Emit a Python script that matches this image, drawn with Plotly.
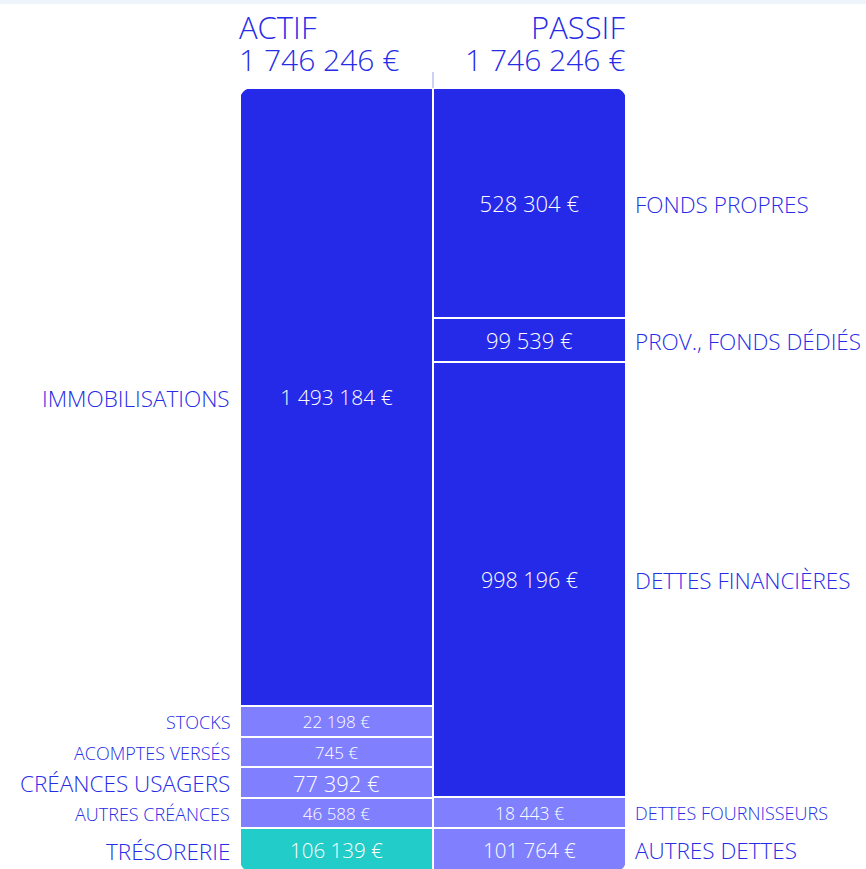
import plotly.graph_objects as go

# ---------------- data ----------------
actif_labels = ["IMMOBILISATIONS", "STOCKS", "ACOMPTES VERSÉS", "CRÉANCES USAGERS",
                "AUTRES CRÉANCES", "TRÉSORERIE"]
actif_values = [1493184, 22198, 745, 77392, 46588, 106139]

passif_labels = ["FONDS PROPRES", "PROV., FONDS DÉDIÉS", "DETTES FINANCIÈRES",
                 "DETTES FOURNISSEURS", "AUTRES DETTES"]
passif_values = [528304, 99539, 998196, 18443, 101764]

# ---------------- style ----------------
DARK = "#2529E8"
LIGHT = "#8080FF"
TEAL = "#22CCC8"
TXT = "#272CE6"
FONT = "Segoe UI, Open Sans, sans-serif"
WEIGHT = 300

actif_colors = [DARK, LIGHT, LIGHT, LIGHT, LIGHT, TEAL]
passif_colors = [DARK, DARK, DARK, LIGHT, LIGHT]
actif_label_sizes = [22.5, 18, 18, 22.5, 18, 22.5]
passif_label_sizes = [22.5, 22.5, 22.5, 18, 22.5]
actif_value_sizes = [21, 17, 17, 22, 17, 20.5]
passif_value_sizes = [22, 22, 21.5, 17.5, 20.5]

COL_H = 784.0      # display height of a column (in px units of the y axis)
MIN_H = 30.5       # minimum display height for small items
MIN_SHARE = 0.05   # items below this share get the minimum height
BOTTOM_PX = 872    # pixel row of column bottom
FIG_W, FIG_H = 866, 869


def display_heights(values):
    total = sum(values)
    small = [v / total < MIN_SHARE for v in values]
    rest = COL_H - MIN_H * sum(small)
    big_total = sum(v for v, s in zip(values, small) if not s)
    return [MIN_H if s else v / big_total * rest for v, s in zip(values, small)]


def bases(heights):
    # items listed top to bottom; stack from the top of the column downward
    out, top = [], COL_H
    for h in heights:
        top -= h
        out.append(top)
    return out


def fmt(v):
    return f"{v:,}".replace(",", " ") + " €"


a_h = display_heights(actif_values)
p_h = display_heights(passif_values)
a_b = bases(a_h)
p_b = bases(p_h)

fig = go.Figure()
for xpos, heights, bs, vals, cols, sizes in [
    (0, a_h, a_b, actif_values, actif_colors, actif_value_sizes),
    (1, p_h, p_b, passif_values, passif_colors, passif_value_sizes),
]:
    fig.add_trace(go.Bar(
        x=[xpos] * len(vals), y=heights, base=bs, width=1,
        marker=dict(color=cols, line=dict(color="white", width=2)),
        text=[fmt(v) for v in vals], textposition="inside",
        insidetextanchor="middle", textangle=0, constraintext="none",
        textfont=dict(color="white", size=sizes, family=FONT, weight=WEIGHT),
        hoverinfo="skip", showlegend=False,
    ))

ann = []
for lab, h, b, s in zip(actif_labels, a_h, a_b, actif_label_sizes):
    ann.append(dict(x=-0.5, y=b + h / 2, xref="x", yref="y", text=lab,
                    showarrow=False, xanchor="right", yanchor="middle", xshift=-8,
                    yshift=-1,
                    font=dict(color=TXT, size=s, family=FONT, weight=WEIGHT)))
for lab, h, b, s in zip(passif_labels, p_h, p_b, passif_label_sizes):
    ann.append(dict(x=1.5, y=b + h / 2, xref="x", yref="y", text=lab,
                    showarrow=False, xanchor="left", yanchor="middle", xshift=7,
                    yshift=-1,
                    font=dict(color=TXT, size=s, family=FONT, weight=WEIGHT)))

tot_a = sum(actif_values)
tot_p = sum(passif_values)
for x, anchor, title, tot in [(-0.5, "left", "ACTIF", tot_a), (1.5, "right", "PASSIF", tot_p)]:
    ann.append(dict(x=x, y=BOTTOM_PX - 27, xref="x", yref="y", text=title, showarrow=False,
                    xanchor=anchor, yanchor="middle", xshift=-2 if anchor == "left" else 0,
                    borderpad=0,
                    font=dict(color=TXT, size=31, family=FONT, weight=WEIGHT)))
    ann.append(dict(x=x, y=BOTTOM_PX - 59, xref="x", yref="y", text=fmt(tot), showarrow=False,
                    xanchor=anchor, yanchor="middle", xshift=-2 if anchor == "left" else 0,
                    borderpad=0,
                    font=dict(color=TXT, size=30, family=FONT, weight=WEIGHT)))

# rounded outer corners (white masks)
R = 12
ppu = (626 - 240) / 2.0
rx, ry = R / ppu, R
k = 0.5523


def corner(xc, yc, sx, sy):
    ax, ay = xc + sx * rx, yc
    bx, by = xc, yc + sy * ry
    c1x, c1y = xc + sx * rx * (1 - k), yc
    c2x, c2y = xc, yc + sy * ry * (1 - k)
    return dict(type="path", xref="x", yref="y", layer="above",
                path=f"M {xc},{yc} L {ax},{ay} C {c1x},{c1y} {c2x},{c2y} {bx},{by} Z",
                fillcolor="white", line=dict(width=0))


shapes = [
    dict(type="rect", xref="paper", yref="paper", x0=0, x1=1, y0=1 - 4 / FIG_H, y1=1,
         fillcolor="#EEF4FC", line=dict(width=0), layer="below"),
    dict(type="line", xref="x", yref="y", x0=0.5, x1=0.5, y0=COL_H, y1=COL_H + 16,
         line=dict(color="#CFCFF7", width=2)),
    corner(-0.5, COL_H, 1, -1),
    corner(1.5, COL_H, -1, -1),
    corner(-0.5, 0, 1, 1),
    corner(1.5, 0, -1, 1),
]

left = -0.5 - 240 / ppu
right = 1.5 + (FIG_W - 626) / ppu
fig.update_layout(
    width=FIG_W, height=FIG_H, margin=dict(l=0, r=0, t=0, b=0),
    paper_bgcolor="white", plot_bgcolor="white",
    barmode="overlay", bargap=0,
    xaxis=dict(range=[left, right], visible=False, fixedrange=True),
    yaxis=dict(range=[BOTTOM_PX - FIG_H, BOTTOM_PX], visible=False, fixedrange=True),
    annotations=ann, shapes=shapes,
)
fig.write_html(
    "out.html",
    config=dict(displayModeBar=False),
    post_script="document.body.style.margin='0';document.body.style.overflow='hidden';",
)
